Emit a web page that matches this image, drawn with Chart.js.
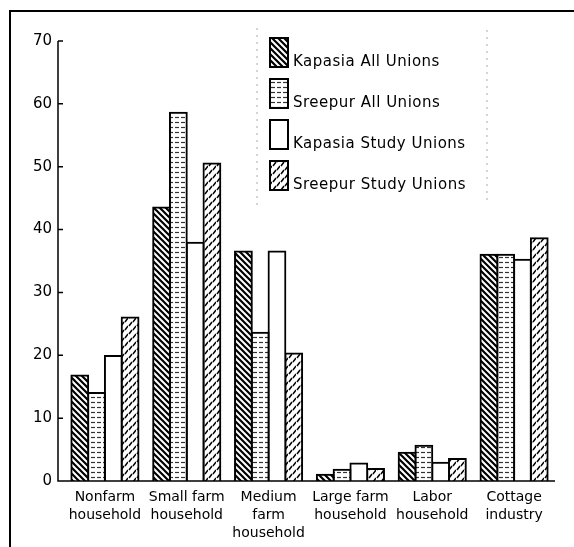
<!DOCTYPE html>
<html>
<head>
<meta charset="utf-8">
<script src="https://cdn.jsdelivr.net/npm/chart.js@4.4.1/dist/chart.umd.min.js"></script>
<style>
  html, body { margin: 0; padding: 0; background: #fff; }
  canvas { display: block; }
</style>
</head>
<body>
<canvas id="chart" width="574" height="547"></canvas>
<script>
// data
const categories = [
  ['Nonfarm', 'household'],
  ['Small farm', 'household'],
  ['Medium', 'farm', 'household'],
  ['Large farm', 'household'],
  ['Labor', 'household'],
  ['Cottage', 'industry'],
];
const seriesNames = ['Kapasia All Unions', 'Sreepur All Unions', 'Kapasia Study Unions', 'Sreepur Study Unions'];
const kapasiaAll   = [16.8, 43.5, 36.5, 1.0, 4.5, 36.0];
const sreepurAll   = [14.0, 58.6, 23.6, 1.8, 5.6, 36.0];
const kapasiaStudy = [19.9, 37.9, 36.5, 2.8, 2.9, 35.2];
const sreepurStudy = [26.0, 50.5, 20.3, 1.9, 3.5, 38.6];
const yMin = 0, yMax = 70, yStep = 10;

const FONT = "'DejaVu Sans', sans-serif";
const AXIS_X = 58; // where the y axis line sits

function makePattern(w, h, drawFn) {
  const c = document.createElement('canvas');
  c.width = w; c.height = h;
  const g = c.getContext('2d');
  g.fillStyle = '#fff';
  g.fillRect(0, 0, w, h);
  g.strokeStyle = '#000';
  drawFn(g);
  return g.createPattern(c, 'repeat');
}

// "\\\" heavy diagonal hatch
const hatchBack = makePattern(6, 6, g => {
  g.lineWidth = 2.2;
  g.beginPath();
  g.moveTo(-1, -1); g.lineTo(7, 7);
  g.moveTo(-1, 5); g.lineTo(1, 7);
  g.moveTo(5, -1); g.lineTo(7, 1);
  g.stroke();
});
// short horizontal dashes
const hatchHoriz = makePattern(6, 5, g => {
  g.lineWidth = 1.2;
  g.strokeStyle = '#333';
  g.beginPath();
  g.moveTo(1, 2.5); g.lineTo(5, 2.5);
  g.stroke();
});
// dashed "/" hatch
const hatchFwd = makePattern(8, 8, g => {
  g.lineWidth = 1.5;
  g.beginPath();
  g.moveTo(1, 6); g.lineTo(4, 2);
  g.moveTo(5, 10); g.lineTo(8, 6);
  g.moveTo(5, 2); g.lineTo(8, -2);
  g.stroke();
});
const fills = [hatchBack, hatchHoriz, '#fff', hatchFwd];

const framePlugin = {
  id: 'frame',
  afterDraw(chart) {
    const ctx = chart.ctx;
    const y = chart.scales.y;
    const area = chart.chartArea;
    ctx.save();
    // outer frame (top + left)
    ctx.strokeStyle = '#000';
    ctx.lineWidth = 2;
    ctx.beginPath();
    ctx.moveTo(574, 11); ctx.lineTo(10, 11); ctx.lineTo(10, 547);
    ctx.stroke();
    // axes
    ctx.lineWidth = 1.5;
    ctx.beginPath();
    ctx.moveTo(AXIS_X, y.getPixelForValue(yMax));
    ctx.lineTo(AXIS_X, y.getPixelForValue(yMin));
    ctx.lineTo(area.right, y.getPixelForValue(yMin));
    // inward tick marks
    for (let v = yMin; v <= yMax; v += yStep) {
      const py = y.getPixelForValue(v);
      ctx.moveTo(AXIS_X, py); ctx.lineTo(AXIS_X + 5, py);
    }
    ctx.stroke();
    // legend box (faint dotted sides)
    ctx.strokeStyle = '#aaa';
    ctx.lineWidth = 1;
    ctx.setLineDash([2, 5]);
    ctx.beginPath();
    ctx.moveTo(257, 28); ctx.lineTo(257, 205);
    ctx.moveTo(487, 30); ctx.lineTo(487, 200);
    ctx.stroke();
    ctx.setLineDash([]);
    // legend entries
    ctx.font = '15px ' + FONT;
    ctx.letterSpacing = '0.5px';
    ctx.textBaseline = 'middle';
    seriesNames.forEach((name, i) => {
      const top = 38 + i * 41;
      ctx.fillStyle = fills[i];
      ctx.fillRect(270, top, 18, 29);
      ctx.strokeStyle = '#000';
      ctx.lineWidth = 2;
      ctx.strokeRect(270, top, 18, 29);
      ctx.fillStyle = '#000';
      ctx.fillText(name, 293, top + 24);
    });
    ctx.restore();
  }
};

const seriesData = [kapasiaAll, sreepurAll, kapasiaStudy, sreepurStudy];

new Chart(document.getElementById('chart'), {
  type: 'bar',
  data: {
    labels: categories,
    datasets: seriesData.map((d, i) => ({
      label: seriesNames[i],
      data: d,
      backgroundColor: fills[i],
      borderColor: '#000',
      borderWidth: 2,
      inflateAmount: 1,
      barPercentage: 1,
      categoryPercentage: 0.82,
    })),
  },
  options: {
    responsive: false,
    animation: false,
    devicePixelRatio: 1,
    layout: { padding: { top: 41, right: 19, left: 0, bottom: 0 } },
    plugins: { legend: { display: false }, tooltip: { enabled: false } },
    scales: {
      x: {
        grid: { display: false, drawTicks: false },
        border: { display: false },
        ticks: {
          color: '#000',
          padding: 7,
          maxRotation: 0,
          autoSkip: false,
          font: { family: FONT, size: 14, lineHeight: 1.3 },
        },
        afterFit(scale) { scale.height = 66; },
      },
      y: {
        min: yMin,
        max: yMax,
        grid: { display: false, drawTicks: false },
        border: { display: false },
        ticks: {
          stepSize: yStep,
          color: '#000',
          padding: 12,
          font: { family: FONT, size: 15 },
        },
        afterFit(scale) { scale.width = 64; },
      },
    },
  },
  plugins: [framePlugin],
});
</script>
</body>
</html>
